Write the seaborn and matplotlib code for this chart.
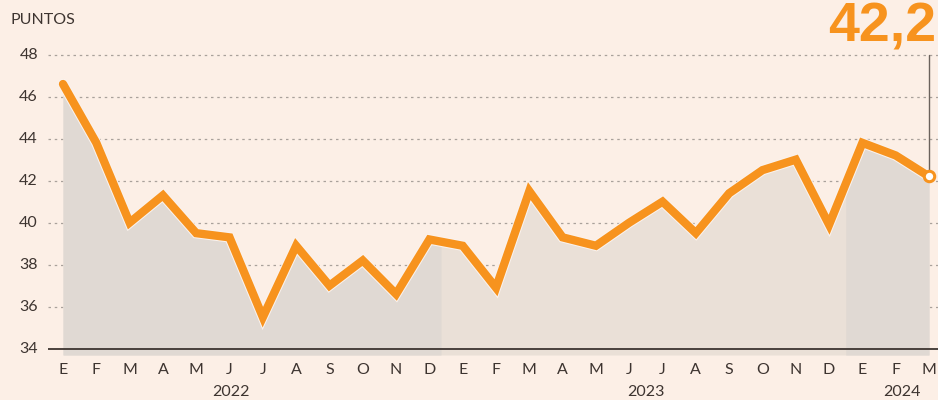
import pandas as pd
import matplotlib
matplotlib.use('Agg')
import matplotlib.pyplot as plt
import matplotlib.patheffects as pe
import seaborn as sns

meses = ['E', 'F', 'M', 'A', 'M', 'J', 'J', 'A', 'S', 'O', 'N', 'D',
         'E', 'F', 'M', 'A', 'M', 'J', 'J', 'A', 'S', 'O', 'N', 'D',
         'E', 'F', 'M']
valores = [46.6, 43.8, 40.0, 41.3, 39.5, 39.3, 35.5, 38.9, 37.0, 38.2, 36.6, 39.2,
           38.9, 36.9, 41.5, 39.3, 38.9, 40.0, 41.0, 39.5, 41.4, 42.5, 43.0, 39.9,
           43.8, 43.2, 42.2]
anios = ['2022', '2023', '2024']
yticks = [34, 36, 38, 40, 42, 44, 46, 48]

BG = '#fcefe6'
ORANGE = '#f7931e'
DARK = '#3d3430'

df = pd.DataFrame({'x': range(len(valores)), 'valor': valores})

sns.set_theme(style='white')
plt.rcParams['font.family'] = ['Lato', 'DejaVu Sans']

fig = plt.figure(figsize=(9.38, 4.0), dpi=100, facecolor=BG)
ax = fig.add_axes([48 / 938, 45 / 400, 1 - 48 / 938, 1 - 45 / 400])
ax.set_facecolor(BG)

base = 33.7
ax.fill_between(df['x'], df['valor'], base, color='#eae0d7', lw=0, zorder=1)
# darker bands for 2022 and 2024
x22 = [0, 1, 2, 3, 4, 5, 6, 7, 8, 9, 10, 11, 11.35]
v22 = valores[:12] + [valores[11] + 0.35 * (valores[12] - valores[11])]
ax.fill_between(x22, v22, base, color='#e0d9d3', lw=0, zorder=1.5)
x24 = [23.5, 24, 25, 26]
v24 = [valores[23] + 0.5 * (valores[24] - valores[23])] + valores[24:]
ax.fill_between(x24, v24, base, color='#e0d9d3', lw=0, zorder=1.5)

for y in yticks[1:]:
    ax.axhline(y, color='#a9a19b', lw=0.9, ls=(0, (2, 3)), zorder=0.5)
ax.axhline(34, color=DARK, lw=1.3, zorder=3)

sns.lineplot(data=df, x='x', y='valor', ax=ax, color=ORANGE, lw=6, zorder=4,
             solid_capstyle='round', solid_joinstyle='miter',
             path_effects=[pe.Stroke(linewidth=7.5, foreground='#fbf3ee'), pe.Normal()])

last_x = len(valores) - 1
ax.plot([last_x, last_x], [valores[-1], 48], color='#6b625c', lw=1, zorder=3.5)
ax.plot(last_x, valores[-1], 'o', ms=7.5, mfc='white', mec=ORANGE, mew=2.2, zorder=5)
fig.text(0.998, 0.997, '42,2', ha='right', va='top', color=ORANGE,
         fontsize=40, fontweight='bold', family=['Liberation Sans', 'DejaVu Sans'])

ax.set_xlim(-0.45, 26.27)
ax.set_ylim(base, 50.6)
for s in ax.spines.values():
    s.set_visible(False)
ax.set_xticks([])
ax.set_yticks([])
ax.set_xlabel('')
ax.set_ylabel('')

for y in yticks:
    ax.text(-0.75, y, str(y), ha='right', va='center', fontsize=11.5, color=DARK,
            clip_on=False)
for i, m in enumerate(meses):
    ax.text(i, 33.0, m, ha='center', va='center', fontsize=11.5, color=DARK,
            clip_on=False)
for pos, a in zip([5.05, 17.5, 25.2], anios):
    ax.text(pos, 31.95, a, ha='center', va='center', fontsize=11.5, color=DARK,
            clip_on=False)
fig.text(10 / 938, 1 - 20 / 400, 'PUNTOS', ha='left', va='center', fontsize=11.5,
         color=DARK)

fig.savefig('out.png', dpi=100, facecolor=BG)
